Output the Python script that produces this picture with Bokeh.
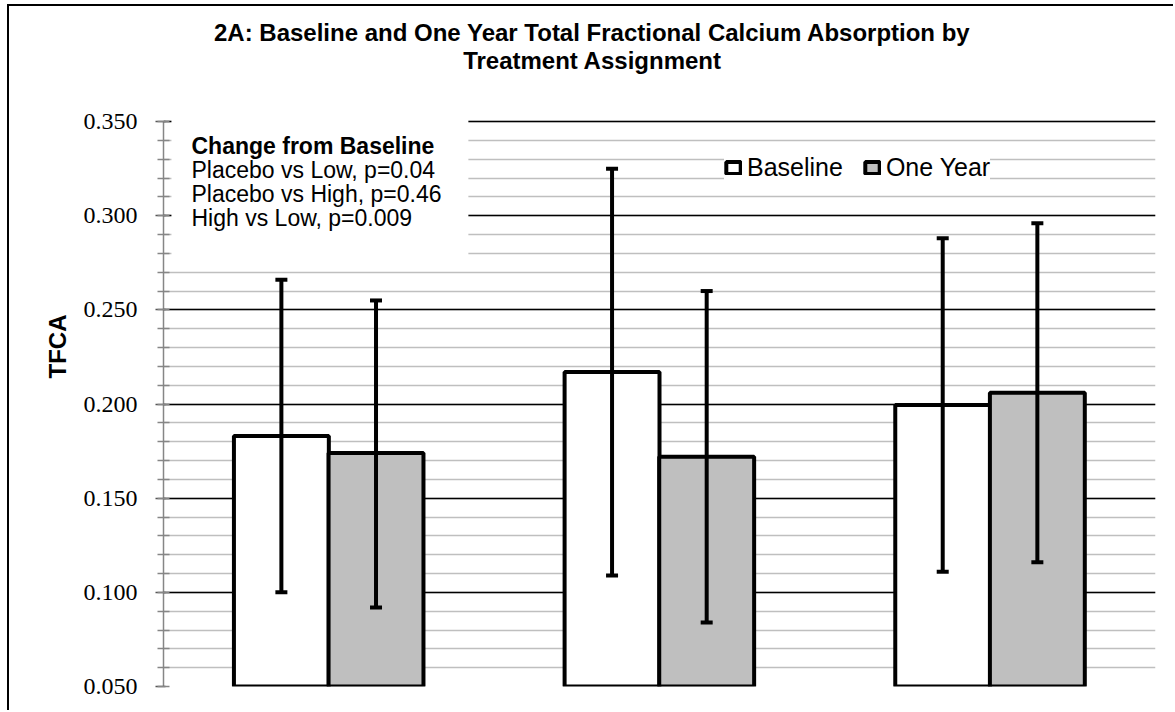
from bokeh.plotting import figure
from bokeh.models import (Range1d, FactorRange, SingleIntervalTicker, PrintfTickFormatter,
                          ColumnDataSource, Whisker, TeeHead, Legend, LegendItem, Label,
                          BoxAnnotation)
from bokeh.transform import dodge
from bokeh.embed import file_html
from bokeh.resources import INLINE

# ---------------- data ----------------
groups = ["Placebo", "Low", "High"]
series_names = ["Baseline", "One Year"]
baseline = [0.183, 0.217, 0.1995]
baseline_upper = [0.266, 0.325, 0.288]
baseline_lower = [0.100, 0.109, 0.111]
one_year = [0.174, 0.172, 0.206]
one_year_upper = [0.255, 0.260, 0.296]
one_year_lower = [0.092, 0.084, 0.116]
y_min, y_max, y_tick_step = 0.05, 0.35, 0.05
y_label = "TFCA"
title_lines = ["2A: Baseline and One Year Total Fractional Calcium Absorption by",
               "Treatment Assignment"]
note_title = "Change from Baseline"
note_lines = ["Placebo vs Low, p=0.04", "Placebo vs High, p=0.46", "High vs Low, p=0.009"]

SANS = "Liberation Sans"
SERIF = "Liberation Serif"

src = ColumnDataSource(dict(groups=groups, baseline=baseline, baseline_upper=baseline_upper,
                            baseline_lower=baseline_lower, one_year=one_year,
                            one_year_upper=one_year_upper, one_year_lower=one_year_lower))

# the frame reaches up to the top of the chart area so the title can live inside it;
# axis and grid are bounded to the real value range 0.05 .. 0.35
p = figure(x_range=FactorRange(factors=groups, range_padding=0),
           y_range=Range1d(y_min, 0.4111), title=None,
           width=1166, height=706, output_backend="svg", toolbar_location=None,
           min_border_left=154, min_border_right=20, min_border_top=0, min_border_bottom=26)
p.styles = {"margin-left": "7px", "margin-top": "4px",
            "border-left": "2px solid black", "border-top": "2px solid black"}
p.outline_line_color = None

p.xaxis.visible = False
ax = p.yaxis[0]
ax.bounds = (y_min, y_max + 1e-5)
ax.ticker = SingleIntervalTicker(interval=y_tick_step, num_minor_ticks=5)
ax.formatter = PrintfTickFormatter(format="%.3f")
ax.axis_line_color = "#868686"
ax.axis_line_width = 1.5
ax.major_tick_line_color = "#555555"
ax.major_tick_line_width = 1.5
ax.major_tick_out = 8
ax.major_tick_in = 2
ax.minor_tick_line_color = "#868686"
ax.minor_tick_line_width = 1.5
ax.minor_tick_out = 6
ax.minor_tick_in = 6
ax.major_label_text_font = SERIF
ax.major_label_text_font_size = "24px"
ax.major_label_text_color = "black"
ax.major_label_standoff = 18
ax.axis_label = y_label
ax.axis_label_text_font = SANS
ax.axis_label_text_font_style = "bold"
ax.axis_label_text_font_size = "24px"
ax.axis_label_text_color = "black"
ax.axis_label_standoff = 10

p.xgrid.visible = False
p.ygrid.bounds = (y_min, y_max + 1e-5)
p.ygrid.grid_line_color = "black"
p.ygrid.grid_line_width = 1.3
p.ygrid.minor_grid_line_color = "#bfbfbf"
p.ygrid.minor_grid_line_width = 1.5

# bars
off_b, off_o, bw = -0.1435, 0.1427, 0.287
r1 = p.vbar(x=dodge("groups", off_b, range=p.x_range), top="baseline", bottom=y_min, width=bw,
            source=src, fill_color="white", line_color="black", line_width=4)
r2 = p.vbar(x=dodge("groups", off_o, range=p.x_range), top="one_year", bottom=y_min, width=bw,
            source=src, fill_color="#bfbfbf", line_color="black", line_width=4)

for off, up, lo in [(off_b, "baseline_upper", "baseline_lower"),
                    (off_o, "one_year_upper", "one_year_lower")]:
    w = Whisker(source=src, base=dodge("groups", off, range=p.x_range), upper=up, lower=lo,
                line_color="black", line_width=4, level="annotation",
                upper_head=TeeHead(size=12, line_width=4, line_color="black"),
                lower_head=TeeHead(size=12, line_width=4, line_color="black"))
    p.add_layout(w)

# note box
box = BoxAnnotation(left=0.024, right=0.922, bottom=0.2765, top=0.36,
                    fill_color="white", fill_alpha=1.0, line_color=None)
p.add_layout(box)

note_y = [0.33685, 0.32413, 0.3114, 0.29868]
p.add_layout(Label(x=0.0847, y=note_y[0], text=note_title, text_font=SANS,
                   text_font_style="bold", text_font_size="23px", text_color="black",
                   text_baseline="alphabetic"))
for t, yy in zip(note_lines, note_y[1:]):
    p.add_layout(Label(x=0.0847, y=yy, text=t, text_font=SANS, text_font_size="23px",
                       text_color="black", text_baseline="alphabetic"))

# title (inside the extended frame, above the value range)
for t, yy in zip(title_lines, [0.3973, 0.3824]):
    p.add_layout(Label(x=1.2974, y=yy, text=t, text_font=SANS, text_font_style="bold",
                       text_font_size="24px", text_color="black", text_align="center",
                       text_baseline="alphabetic"))

# legend
legend = Legend(items=[LegendItem(label=series_names[0], renderers=[r1]),
                       LegendItem(label=series_names[1], renderers=[r2])],
                location=(561, 504), orientation="horizontal",
                padding=31, spacing=20, label_standoff=5, glyph_width=18, glyph_height=15,
                margin=0, border_line_color=None, background_fill_color="white",
                background_fill_alpha=1.0, label_text_font=SANS, label_text_font_size="25px",
                label_text_color="black")
p.add_layout(legend)

open("out.html", "w").write(file_html(p, INLINE))
